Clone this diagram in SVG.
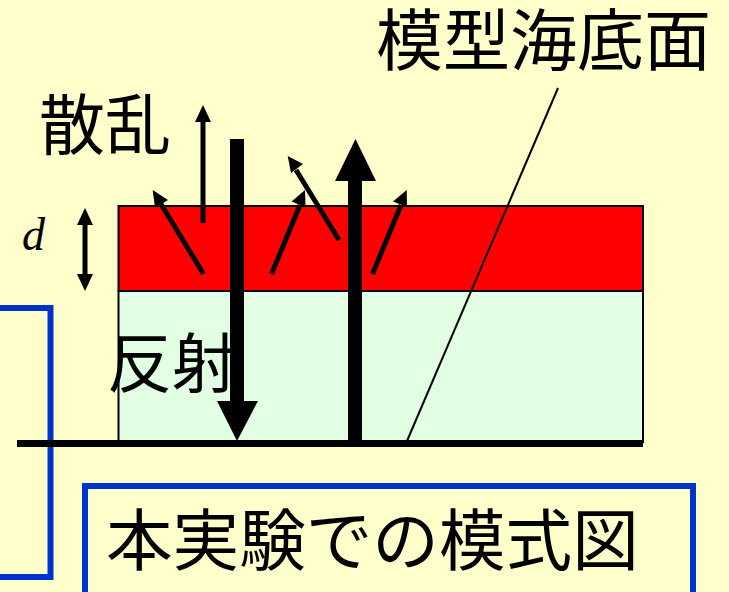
<svg xmlns="http://www.w3.org/2000/svg" width="729" height="592" viewBox="0 0 729 592">
<defs><style>
.jp{font-family:"Noto Sans CJK JP","Liberation Sans",sans-serif;fill:#000}
.th{stroke:#000;stroke-width:5;fill:none}
.box{fill:none;stroke:#0033cc;stroke-width:6}
</style></defs>
<rect width="729" height="592" fill="#ffffcc"/>
<rect id="scatter-layer" x="118.500" y="206" width="524.500" height="85" fill="#ff0000" stroke="#000" stroke-width="2"/>
<rect id="lower-layer" x="118.500" y="291" width="524.500" height="151" fill="#e3ffe3" stroke="#000" stroke-width="2"/>
<path id="left-box" class="box" d="M0 308H50.500V577H0"/>
<g id="caption"><rect class="box" x="85" y="486" width="608" height="120"/><text class="jp" x="106" y="565" font-size="66.600">本実験での模式図</text></g>
<g id="connectors">
<path d="M17 443.500H643" stroke="#000" stroke-width="7"/>
<path d="M407 441L558 88" stroke="#000" stroke-width="2"/>
<path d="M237 139V402" stroke="#000" stroke-width="14"/><path d="M217 401H258L237 441Z"/>
<path d="M355 441V180" stroke="#000" stroke-width="14"/><path d="M335 181H376L355.500 139Z"/>
<path class="th" d="M203 223V120"/><path d="M195 122L203 105L211 122Z"/>
<path class="th" d="M85 224V275"/><path d="M77 225L85 208L93 225Z"/><path d="M77 274L85 291L93 274Z"/>
<path class="th" d="M203.500 274L161 204"/><path d="M152.700 190L168 200L155 208Z"/>
<path class="th" d="M271.500 274L300 205"/><path d="M305 190L305.500 207L291.500 201.500Z"/>
<path class="th" d="M339 240L296 170"/><path d="M287.700 156L303 164L291 173Z"/>
<path class="th" d="M372.500 274L401 205"/><path d="M406.700 190L407 207L393 201.500Z"/>
</g>
<text id="title" class="jp" x="376" y="65" font-size="67">模型海底面</text>
<text id="scatter-label" class="jp" x="39" y="149" font-size="66">散乱</text>
<text id="reflect-label" class="jp" x="107" y="387" font-size="65">反射</text>
<text id="d-label" x="22" y="250" font-size="46" font-style="italic" font-family="Liberation Serif,serif">d</text>
</svg>
